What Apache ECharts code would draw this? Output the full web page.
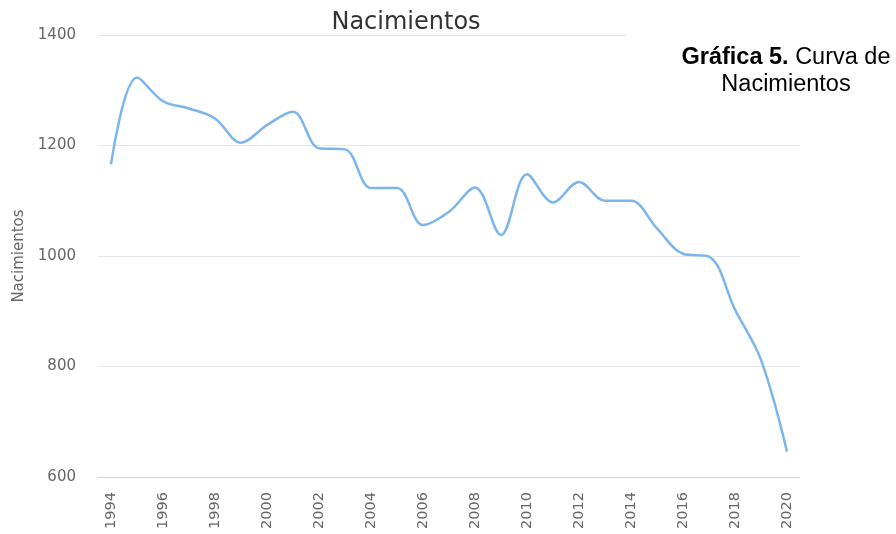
<!DOCTYPE html>
<html>
<head>
<meta charset="utf-8">
<script src="https://cdn.jsdelivr.net/npm/echarts@6/dist/echarts.min.js"></script>
<style>
  html, body { margin: 0; padding: 0; background: #fff; }
  #chart { width: 896px; height: 534px; }
</style>
</head>
<body>
<div id="chart"></div>
<script>
// data
const years = [
  "1994", "1995", "1996", "1997", "1998", "1999", "2000", "2001", "2002",
  "2003", "2004", "2005", "2006", "2007", "2008", "2009", "2010", "2011",
  "2012", "2013", "2014", "2015", "2016", "2017", "2018", "2019", "2020",
];
const births = [
  1166, 1323, 1280, 1267, 1249, 1205, 1237, 1261, 1195,
  1193, 1123, 1123, 1056, 1080, 1124, 1038, 1148, 1097,
  1134, 1100, 1100, 1050, 1004, 999, 903, 812, 646,
];
const yTicks = { min: 600, max: 1400, step: 200 };

const AXIS_BLUE = "#ccd6eb";
const LABEL = "#666666";
const FONT = "DejaVu Sans";

const chart = echarts.init(document.getElementById("chart"));

chart.setOption({
  animation: false,
  title: {
    text: "Nacimientos",
    left: 401,
    top: 6,
    textAlign: "center",
    textStyle: { fontFamily: FONT, fontSize: 24, fontWeight: "normal", color: "#333333" },
  },
  grid: { left: 98, right: 96, top: 35, bottom: 57 },
  xAxis: {
    type: "category",
    data: years,
    boundaryGap: true,
    axisLine: { lineStyle: { color: AXIS_BLUE, width: 1 } },
    axisTick: { alignWithLabel: true, interval: 1, length: 11, lineStyle: { color: AXIS_BLUE } },
    axisLabel: {
      interval: 1,
      rotate: 90,
      margin: 15,
      color: LABEL,
      fontFamily: FONT,
      fontSize: 14.5,
    },
  },
  yAxis: {
    type: "value",
    min: yTicks.min,
    max: yTicks.max,
    interval: yTicks.step,
    name: "Nacimientos",
    nameLocation: "middle",
    nameGap: 68,
    nameTextStyle: { color: LABEL, fontFamily: FONT, fontSize: 15 },
    axisLine: { show: false },
    axisTick: { show: false },
    axisLabel: {
      color: LABEL,
      fontFamily: FONT,
      fontSize: 15,
      margin: 22,
      formatter: (v) => String(v),
    },
    splitLine: { lineStyle: { color: "#e6e6e6" } },
  },
  series: [
    {
      type: "line",
      data: births,
      smooth: 0.35,
      showSymbol: false,
      lineStyle: { color: "#7cb5ec", width: 2.5 },
      itemStyle: { color: "#7cb5ec" },
    },
  ],
  graphic: [
    // the caption box hides the right end of the top grid line
    {
      type: "rect",
      z: 100,
      shape: { x: 627, y: 31, width: 200, height: 8 },
      style: { fill: "#ffffff" },
    },
    {
      type: "text",
      z: 101,
      x: 786,
      y: 44,
      style: {
        text: "{b|Gráfica 5.} Curva de\nNacimientos",
        align: "center",
        verticalAlign: "top",
        font: "23.5px 'Liberation Sans'",
        fill: "#000000",
        lineHeight: 27,
        rich: {
          b: { fontWeight: "bold", fontFamily: "Liberation Sans", fontSize: 23.5, fill: "#000000", lineHeight: 27 },
        },
      },
    },
  ],
});
</script>
</body>
</html>
